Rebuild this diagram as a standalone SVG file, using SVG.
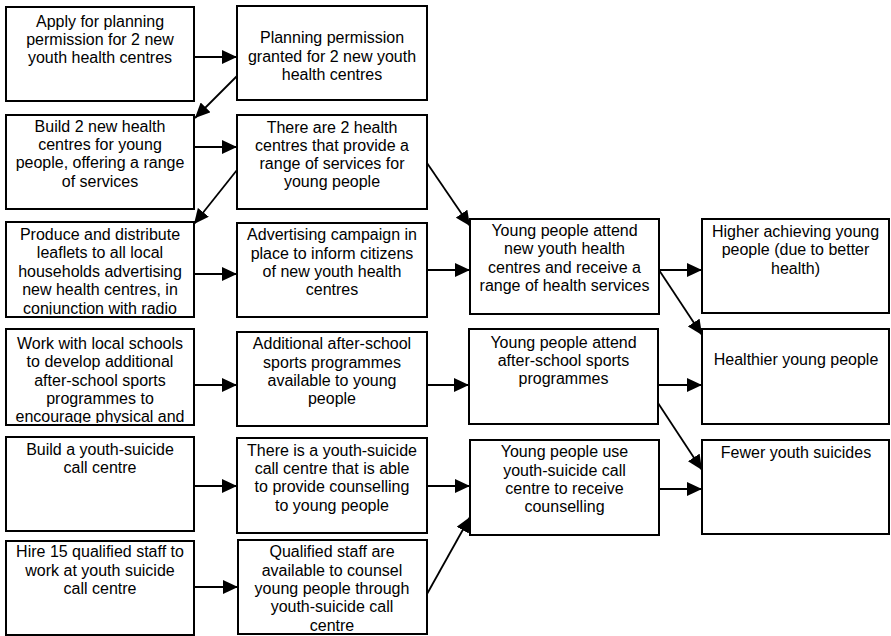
<svg xmlns="http://www.w3.org/2000/svg" width="891" height="636" viewBox="0 0 891 636">
  <style>
    .box { fill: #fff; stroke: #000; stroke-width: 2; }
    .lbl { font-family: "Liberation Sans", Arial, sans-serif; font-size: 16px; fill: #000; text-anchor: middle; }
    .link { stroke: #000; stroke-width: 1.8; fill: none; marker-end: url(#head); }
  </style>
  <defs>
    <marker id="head" markerUnits="userSpaceOnUse" markerWidth="15" markerHeight="14" refX="15" refY="7" orient="auto">
      <path d="M0,0 L15,7 L0,14 Z" fill="#000"/>
    </marker>
    <!-- text areas of the two over-full boxes cut off their last line -->
    <clipPath id="clip-leaflets"><rect x="7" y="223" width="186" height="91.5"/></clipPath>
    <clipPath id="clip-schools"><rect x="7" y="330" width="186" height="93"/></clipPath>
  </defs>

  <!-- activities -->
  <g id="apply-permission">
    <rect class="box" x="6" y="7" width="188" height="94"/>
    <text class="lbl" x="100" y="27">Apply for planning</text>
    <text class="lbl" x="100" y="45">permission for 2 new</text>
    <text class="lbl" x="100" y="63">youth health centres</text>
  </g>
  <g id="build-centres">
    <rect class="box" x="6" y="115" width="188" height="94"/>
    <text class="lbl" x="100" y="132">Build 2 new health</text>
    <text class="lbl" x="100" y="150.2">centres for young</text>
    <text class="lbl" x="100" y="168.4">people, offering a range</text>
    <text class="lbl" x="100" y="186.6">of services</text>
  </g>
  <g id="leaflets">
    <rect class="box" x="6" y="222" width="188" height="95"/>
    <g clip-path="url(#clip-leaflets)">
      <text class="lbl" x="100" y="240">Produce and distribute</text>
      <text class="lbl" x="100" y="258.4">leaflets to all local</text>
      <text class="lbl" x="100" y="276.8">households advertising</text>
      <text class="lbl" x="100" y="295.2">new health centres, in</text>
      <text class="lbl" x="100" y="313.6">conjunction with radio</text>
    </g>
  </g>
  <g id="work-schools">
    <rect class="box" x="6" y="329" width="188" height="96"/>
    <g clip-path="url(#clip-schools)">
      <text class="lbl" x="100" y="348.7">Work with local schools</text>
      <text class="lbl" x="100" y="367.1">to develop additional</text>
      <text class="lbl" x="100" y="385.5">after-school sports</text>
      <text class="lbl" x="100" y="403.9">programmes to</text>
      <text class="lbl" x="100" y="422.3">encourage physical and</text>
    </g>
  </g>
  <g id="build-call-centre">
    <rect class="box" x="6" y="437" width="188" height="94"/>
    <text class="lbl" x="100" y="454.7">Build a youth-suicide</text>
    <text class="lbl" x="100" y="473">call centre</text>
  </g>
  <g id="hire-staff">
    <rect class="box" x="6" y="541" width="188" height="94"/>
    <text class="lbl" x="100" y="557.3">Hire 15 qualified staff to</text>
    <text class="lbl" x="100" y="575.7">work at youth suicide</text>
    <text class="lbl" x="100" y="594">call centre</text>
  </g>

  <!-- outputs -->
  <g id="permission-granted">
    <rect class="box" x="237" y="6" width="190" height="94"/>
    <text class="lbl" x="332" y="43.3">Planning permission</text>
    <text class="lbl" x="332" y="61.5">granted for 2 new youth</text>
    <text class="lbl" x="332" y="79.5">health centres</text>
  </g>
  <g id="centres-exist">
    <rect class="box" x="237" y="115" width="190" height="94"/>
    <text class="lbl" x="332" y="132.7">There are 2 health</text>
    <text class="lbl" x="332" y="150.9">centres that provide a</text>
    <text class="lbl" x="332" y="169.1">range of services for</text>
    <text class="lbl" x="332" y="187.3">young people</text>
  </g>
  <g id="advertising">
    <rect class="box" x="237" y="223" width="190" height="94"/>
    <text class="lbl" x="332" y="240.3">Advertising campaign in</text>
    <text class="lbl" x="332" y="258.6">place to inform citizens</text>
    <text class="lbl" x="332" y="276.9">of new youth health</text>
    <text class="lbl" x="332" y="295">centres</text>
  </g>
  <g id="sports-available">
    <rect class="box" x="237" y="332" width="190" height="94"/>
    <text class="lbl" x="332" y="349.3">Additional after-school</text>
    <text class="lbl" x="332" y="367.6">sports programmes</text>
    <text class="lbl" x="332" y="385.9">available to young</text>
    <text class="lbl" x="332" y="404">people</text>
  </g>
  <g id="call-centre-exists">
    <rect class="box" x="237" y="438" width="190" height="95"/>
    <text class="lbl" x="332" y="455.7">There is a youth-suicide</text>
    <text class="lbl" x="332" y="474">call centre that is able</text>
    <text class="lbl" x="332" y="492.2">to provide counselling</text>
    <text class="lbl" x="332" y="510.5">to young people</text>
  </g>
  <g id="staff-available">
    <rect class="box" x="238" y="540" width="189" height="94"/>
    <text class="lbl" x="332" y="557.3">Qualified staff are</text>
    <text class="lbl" x="332" y="575.6">available to counsel</text>
    <text class="lbl" x="332" y="593.9">young people through</text>
    <text class="lbl" x="332" y="612.2">youth-suicide call</text>
    <text class="lbl" x="332" y="630.5">centre</text>
  </g>

  <!-- short-term outcomes -->
  <g id="attend-centres">
    <rect class="box" x="470" y="219" width="189" height="95"/>
    <text class="lbl" x="564.5" y="236">Young people attend</text>
    <text class="lbl" x="564.5" y="254.4">new youth health</text>
    <text class="lbl" x="564.5" y="272.8">centres and receive a</text>
    <text class="lbl" x="564.5" y="291.2">range of health services</text>
  </g>
  <g id="attend-sports">
    <rect class="box" x="469" y="329" width="189" height="95"/>
    <text class="lbl" x="563.5" y="347.7">Young people attend</text>
    <text class="lbl" x="563.5" y="366">after-school sports</text>
    <text class="lbl" x="563.5" y="384.2">programmes</text>
  </g>
  <g id="use-call-centre">
    <rect class="box" x="470" y="440" width="189" height="95"/>
    <text class="lbl" x="564.5" y="457.3">Young people use</text>
    <text class="lbl" x="564.5" y="475.6">youth-suicide call</text>
    <text class="lbl" x="564.5" y="493.9">centre to receive</text>
    <text class="lbl" x="564.5" y="512.2">counselling</text>
  </g>

  <!-- long-term outcomes -->
  <g id="higher-achieving">
    <rect class="box" x="702" y="219" width="187" height="94"/>
    <text class="lbl" x="795.5" y="237">Higher achieving young</text>
    <text class="lbl" x="795.5" y="255.3">people (due to better</text>
    <text class="lbl" x="795.5" y="273.6">health)</text>
  </g>
  <g id="healthier">
    <rect class="box" x="702" y="329" width="187" height="95"/>
    <text class="lbl" x="796" y="365.3">Healthier young people</text>
  </g>
  <g id="fewer-suicides">
    <rect class="box" x="702" y="440" width="187" height="94"/>
    <text class="lbl" x="796" y="457.7">Fewer youth suicides</text>
  </g>

  <!-- connectors -->
  <g id="connectors">
    <line class="link" x1="194" y1="57" x2="237" y2="57"/>
    <line class="link" x1="237" y1="76" x2="195" y2="118"/>
    <line class="link" x1="194" y1="147" x2="237" y2="147"/>
    <line class="link" x1="237" y1="170" x2="194" y2="224"/>
    <line class="link" x1="194" y1="274" x2="237" y2="274"/>
    <line class="link" x1="427" y1="270" x2="470" y2="270"/>
    <line class="link" x1="427" y1="163" x2="470" y2="226"/>
    <line class="link" x1="194" y1="385" x2="237" y2="385"/>
    <line class="link" x1="427" y1="385" x2="469" y2="385"/>
    <line class="link" x1="194" y1="486" x2="237" y2="486"/>
    <line class="link" x1="427" y1="486" x2="470" y2="486"/>
    <line class="link" x1="194" y1="587" x2="238" y2="587"/>
    <line class="link" x1="427" y1="594" x2="470" y2="517"/>
    <line class="link" x1="659" y1="270" x2="702" y2="270"/>
    <line class="link" x1="659" y1="270" x2="702" y2="335"/>
    <line class="link" x1="658" y1="385" x2="702" y2="385"/>
    <line class="link" x1="658" y1="403" x2="702" y2="470"/>
    <line class="link" x1="659" y1="489" x2="702" y2="489"/>
  </g>
</svg>
